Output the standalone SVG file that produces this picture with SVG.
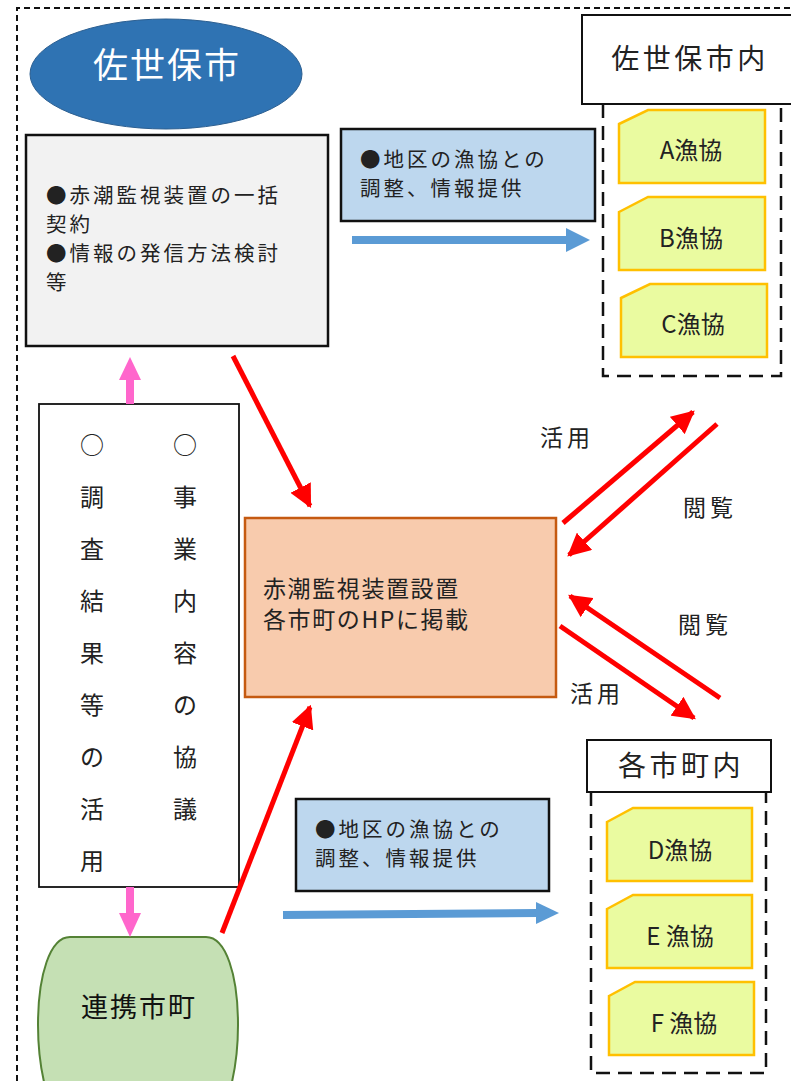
<svg xmlns="http://www.w3.org/2000/svg" width="791" height="1081" viewBox="0 0 791 1081">
<defs>
<style>
text{font-family:"Noto Sans CJK JP","Noto Sans",sans-serif;fill:#222}
.t19{font-size:20.5px;letter-spacing:3px}
.t22{font-size:23px;letter-spacing:1.6px}
.lbl{font-size:23px;letter-spacing:4px}
.co{font-size:24px}
.t24{font-size:24px}
.t26{font-size:28px;letter-spacing:3.5px}
.coop{fill:#EAFBA0;stroke:#FFC000;stroke-width:2.5}
.red{stroke:#FF0000;stroke-width:5;fill:none;marker-end:url(#rh)}
.blue{fill:#BDD7EE;stroke:#111;stroke-width:2.5}
.dash{fill:none;stroke:#111;stroke-width:2.5;stroke-dasharray:14 8}
</style>
<marker id="rh" viewBox="0 0 10 10" refX="9" refY="5" markerWidth="4.6" markerHeight="4.6" orient="auto" markerUnits="strokeWidth">
<path d="M0,0 L10,5 L0,10 z" fill="#FF0000"/>
</marker>
</defs>
<rect x="0" y="0" width="791" height="1081" fill="#fff"/>
<!-- outer dashed border -->
<path d="M17,1081 V8 H791" fill="none" stroke="#111" stroke-width="2" stroke-dasharray="6 4"/>

<g id="sasebo">
<ellipse cx="166" cy="74" rx="136" ry="55" fill="#2F73B3" stroke="#2C5F91" stroke-width="1"/>
<text x="167" y="78" text-anchor="middle" style="font-size:35px;letter-spacing:2px;fill:#fff">佐世保市</text>
</g>

<g id="sasebo-tasks">
<rect x="26" y="135" width="302" height="211" fill="#F2F2F2" stroke="#111" stroke-width="2.5"/>
<text class="t19" x="46" y="203">●赤潮監視装置の一括</text>
<text class="t19" x="46" y="232">契約</text>
<text class="t19" x="46" y="261">●情報の発信方法検討</text>
<text class="t19" x="46" y="290">等</text>
</g>

<g id="info-top">
<rect class="blue" x="341" y="129" width="254" height="92"/>
<text class="t19" x="360" y="167">●地区の漁協との</text>
<text class="t19" x="360" y="196">調整、情報提供</text>
</g>

<g id="sasebo-nai">
<rect x="582" y="15" width="212" height="89" fill="#fff" stroke="#111" stroke-width="2"/>
<text class="t26" x="690" y="69" text-anchor="middle">佐世保市内</text>
<path class="dash" d="M603,104 V376 H781 V104"/>
</g>

<g id="coop-a">
<path class="coop" d="M619,124 L648,110 H765 V183 H619 Z"/>
<text class="co" x="691" y="159" text-anchor="middle">A漁協</text>
</g>
<g id="coop-b">
<path class="coop" d="M619,212 L648,197 H765 V270 H619 Z"/>
<text class="co" x="691" y="247" text-anchor="middle">B漁協</text>
</g>
<g id="coop-c">
<path class="coop" d="M621,298 L650,284 H767 V357 H621 Z"/>
<text class="co" x="693" y="333" text-anchor="middle">C漁協</text>
</g>

<g id="hp">
<rect x="245" y="518" width="311" height="179" fill="#F8CBAD" stroke="#C55A11" stroke-width="2.5"/>
<text class="t22" x="263" y="597">赤潮監視装置設置</text>
<text class="t22" x="263" y="628">各市町のHPに掲載</text>
</g>

<g id="kyogi">
<rect x="39" y="404" width="200" height="483" fill="#fff" stroke="#111" stroke-width="1.8"/>
<g class="t24" text-anchor="middle">
<text x="92" y="454">○</text>
<text x="92" y="506">調</text>
<text x="92" y="558">査</text>
<text x="92" y="610">結</text>
<text x="92" y="662">果</text>
<text x="92" y="714">等</text>
<text x="92" y="766">の</text>
<text x="92" y="818">活</text>
<text x="92" y="870">用</text>
<text x="185" y="454">○</text>
<text x="185" y="506">事</text>
<text x="185" y="558">業</text>
<text x="185" y="610">内</text>
<text x="185" y="662">容</text>
<text x="185" y="714">の</text>
<text x="185" y="766">協</text>
<text x="185" y="818">議</text>
</g>
</g>

<g id="renkei">
<path d="M70,937 H206 C226,937 238,975 238,1025 C238,1055 234,1075 230,1090 H46 C42,1075 38,1055 38,1025 C38,975 50,937 70,937 Z" fill="#C5E0B4" stroke="#548235" stroke-width="2"/>
<text x="139" y="1017" text-anchor="middle" style="font-size:27px;letter-spacing:2px;fill:#111">連携市町</text>
</g>

<g id="info-bottom">
<rect class="blue" x="296" y="799" width="253" height="92"/>
<text class="t19" x="315" y="837">●地区の漁協との</text>
<text class="t19" x="315" y="866">調整、情報提供</text>
</g>

<g id="kakushi-nai">
<rect x="587" y="740" width="184" height="52" fill="#fff" stroke="#111" stroke-width="2"/>
<text class="t26" x="681" y="776" text-anchor="middle">各市町内</text>
<path class="dash" d="M591,792 V1073 H766 V792"/>
</g>

<g id="coop-d">
<path class="coop" d="M607,822 L633,808 H752 V881 H607 Z"/>
<text class="co" x="680" y="859" text-anchor="middle">D漁協</text>
</g>
<g id="coop-e">
<path class="coop" d="M607,909 L633,895 H752 V968 H607 Z"/>
<text class="co" x="680" y="945" text-anchor="middle">E 漁協</text>
</g>
<g id="coop-f">
<path class="coop" d="M609,996 L635,982 H754 V1055 H609 Z"/>
<text class="co" x="684" y="1032" text-anchor="middle">F 漁協</text>
</g>

<g id="labels" class="lbl">
<text x="540" y="446">活用</text>
<text x="683" y="516">閲覧</text>
<text x="678" y="633">閲覧</text>
<text x="570" y="702">活用</text>
</g>

<g id="connectors">
<!-- blue arrows -->
<path d="M352,240 H568" stroke="#5B9BD5" stroke-width="8" fill="none"/>
<path d="M566,228 L590,240 L566,252 Z" fill="#5B9BD5"/>
<path d="M283,915 L538,913" stroke="#5B9BD5" stroke-width="8" fill="none"/>
<path d="M536,902 L559,913 L536,924 Z" fill="#5B9BD5"/>
<!-- pink arrows -->
<path d="M130,404 V378" stroke="#FF66CC" stroke-width="8" fill="none"/>
<path d="M119,380 L130,357 L141,380 Z" fill="#FF66CC"/>
<path d="M130,887 V915" stroke="#FF66CC" stroke-width="8" fill="none"/>
<path d="M119,913 L130,937 L141,913 Z" fill="#FF66CC"/>
<!-- red arrows -->
<path class="red" d="M233,356 L310,506"/>
<path class="red" d="M222,933 L310,707"/>
<path class="red" d="M563,523 L693,412"/>
<path class="red" d="M717,424 L569,555"/>
<path class="red" d="M720,698 L570,596"/>
<path class="red" d="M560,626 L694,718"/>
</g>
</svg>
